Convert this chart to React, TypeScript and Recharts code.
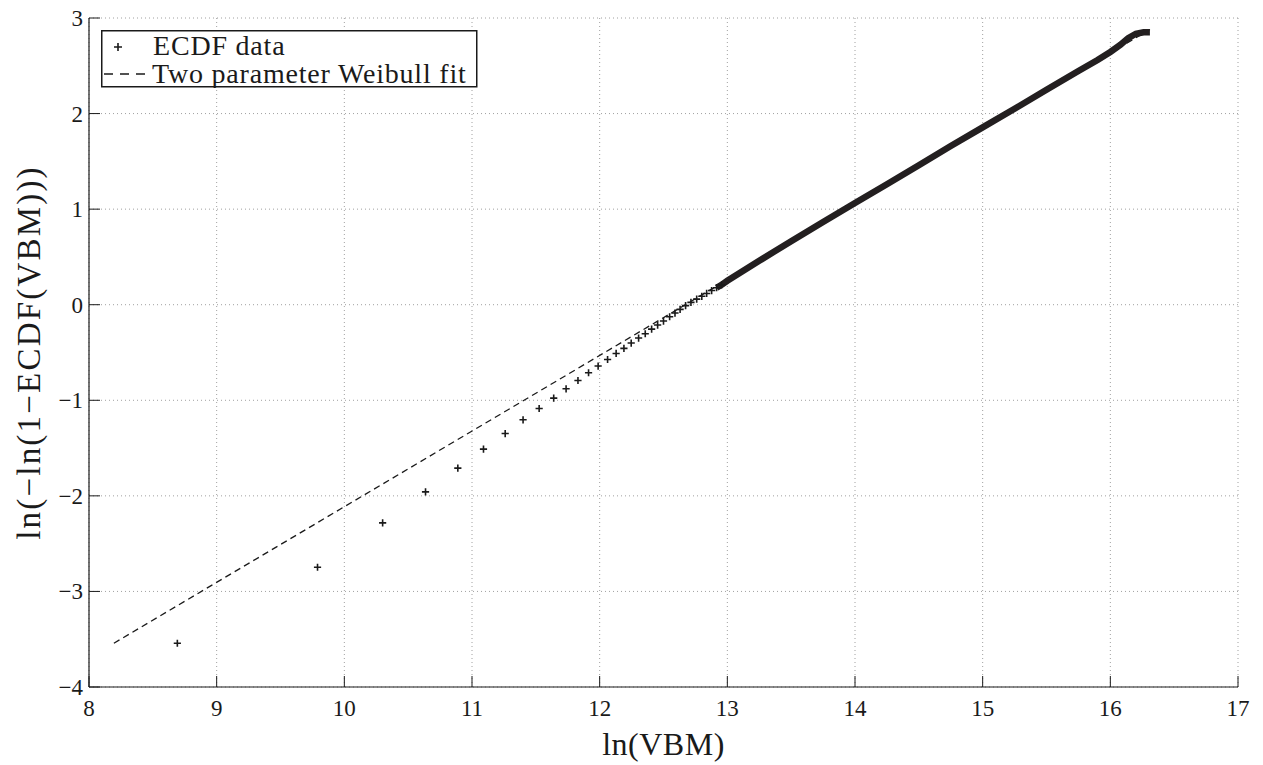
import React from 'react';
import { ComposedChart, Scatter, Line, XAxis, YAxis, CartesianGrid, Legend } from 'recharts';

// Tick values
const xTicks = [8, 9, 10, 11, 12, 13, 14, 15, 16, 17];
const yTicks = [-4, -3, -2, -1, 0, 1, 2, 3];

// ECDF data: individually visible crosses
const ecdfSparseX = [8.692, 9.79, 10.30, 10.636, 10.889, 11.09, 11.26, 11.40, 11.526, 11.64, 11.737, 11.83, 11.913, 11.988, 12.062, 12.129, 12.19, 12.247, 12.305, 12.357, 12.407, 12.454, 12.50, 12.548, 12.59, 12.63, 12.673, 12.715, 12.76, 12.80, 12.838, 12.877, 12.916, 12.955];
const ecdfSparseY = [-3.542, -2.747, -2.283, -1.958, -1.710, -1.511, -1.348, -1.204, -1.086, -0.977, -0.880, -0.793, -0.712, -0.642, -0.573, -0.510, -0.457, -0.401, -0.349, -0.304, -0.255, -0.213, -0.171, -0.126, -0.087, -0.049, -0.010, 0.025, 0.058, 0.088, 0.118, 0.148, 0.178, 0.208];

// ECDF data: dense run of crosses forming a solid band
const ecdfBandX = [12.916, 12.955, 13.0, 13.25, 13.5, 13.75, 14.0, 14.25, 14.5, 14.75, 15.0, 15.25, 15.5, 15.75, 15.9, 16.0, 16.08, 16.14, 16.2, 16.26, 16.31];
const ecdfBandY = [0.178, 0.208, 0.25, 0.46, 0.665, 0.865, 1.065, 1.26, 1.46, 1.66, 1.855, 2.05, 2.25, 2.445, 2.56, 2.645, 2.72, 2.79, 2.835, 2.85, 2.85];

// Two parameter Weibull fit (end points)
const fitX = [8.195, 16.31];
const fitY = [-3.542, 2.88];

const sparseData = ecdfSparseX.map((x, i) => ({ x, y: ecdfSparseY[i] }));
const bandData = ecdfBandX.map((x, i) => ({ x, y: ecdfBandY[i] }));
const fitData = fitX.map((x, i) => ({ x, y: fitY[i] }));

const FONT = '"Liberation Serif", "Times New Roman", serif';
const TICK = 11;
const INK = '#1a1a1a';

// layout constants
const W = 1263;
const H = 765;
const M_TOP = 18;
const M_RIGHT = 25;
const Y_AXIS_W = 89;
const X_AXIS_H = 78;
const PLOT_TOP = M_TOP;
const PLOT_BOTTOM = H - X_AXIS_H;
const PLOT_LEFT = Y_AXIS_W;
const PLOT_RIGHT = W - M_RIGHT;

const fmt = (v: number) => (v < 0 ? '\u2212' + Math.abs(v) : String(v));

const BottomTick = (props: any) => {
  const { x, payload } = props;
  return (
    <g>
      <line x1={x} x2={x} y1={PLOT_BOTTOM} y2={PLOT_BOTTOM - TICK} stroke={INK} strokeWidth={1} />
      <text x={x} y={PLOT_BOTTOM + 29} textAnchor="middle" fontFamily={FONT} fontSize={23} fill={INK}>
        {fmt(payload.value)}
      </text>
    </g>
  );
};

const TopTick = (props: any) => {
  const { x } = props;
  return <line x1={x} x2={x} y1={PLOT_TOP} y2={PLOT_TOP + TICK} stroke={INK} strokeWidth={1} />;
};

const LeftTick = (props: any) => {
  const { y, payload } = props;
  return (
    <g>
      <line x1={PLOT_LEFT} x2={PLOT_LEFT + TICK} y1={y} y2={y} stroke={INK} strokeWidth={1} />
      <text x={PLOT_LEFT - 6} y={y + 8} textAnchor="end" fontFamily={FONT} fontSize={23} fill={INK}>
        {fmt(payload.value)}
      </text>
    </g>
  );
};

const RightTick = (props: any) => {
  const { y } = props;
  return <line x1={PLOT_RIGHT} x2={PLOT_RIGHT - TICK} y1={y} y2={y} stroke={INK} strokeWidth={1} />;
};

const Cross = (props: any) => {
  const { cx, cy } = props;
  const s = 3.6;
  return (
    <path
      d={`M${cx - s},${cy}H${cx + s}M${cx},${cy - s}V${cy + s}`}
      stroke={INK}
      strokeWidth={1.6}
      fill="none"
    />
  );
};

const renderLegend = () => (
  <svg width={377} height={58} style={{ display: 'block' }}>
    <rect x={0.75} y={0.75} width={375} height={56} fill="#fff" stroke={INK} strokeWidth={1.5} />
    <path d="M13,17H21M17,13V21" stroke={INK} strokeWidth={1.6} />
    <text x={52} y={25} fontFamily={FONT} fontSize={28} letterSpacing={0.8} fill={INK}>
      ECDF data
    </text>
    <line x1={3} x2={48} y1={44} y2={44} stroke={INK} strokeWidth={1.3} strokeDasharray="9 7" />
    <text x={51} y={53} fontFamily={FONT} fontSize={28} letterSpacing={0.8} fill={INK}>
      Two parameter Weibull fit
    </text>
  </svg>
);

const YLabel = () => {
  const cx = 40;
  const cy = (PLOT_TOP + PLOT_BOTTOM) / 2;
  return (
    <text
      x={cx}
      y={cy}
      transform={`rotate(-90, ${cx}, ${cy})`}
      textAnchor="middle"
      fontFamily={FONT}
      fontSize={33}
      letterSpacing={2.2}
      fill={INK}
    >
      {'ln(\u2212ln(1\u2212ECDF(VBM)))'}
    </text>
  );
};

const XLabel = () => {
  const cx = (PLOT_LEFT + PLOT_RIGHT) / 2;
  return (
    <text x={cx} y={PLOT_BOTTOM + 68} textAnchor="middle" fontFamily={FONT} fontSize={32} letterSpacing={0.5} fill={INK}>
      ln(VBM)
    </text>
  );
};

export default function App() {
  return (
    <div style={{ position: 'absolute', left: 0, top: 0, width: W, height: H, background: '#fff' }}>
      <ComposedChart width={W} height={H} margin={{ top: M_TOP, right: M_RIGHT, bottom: 0, left: 0 }}>
        <CartesianGrid stroke="#a0a0a0" strokeDasharray="1 3" strokeWidth={1} />
        <XAxis
          dataKey="x"
          type="number"
          domain={[8, 17]}
          ticks={xTicks}
          interval={0}
          allowDataOverflow
          height={X_AXIS_H}
          tickLine={false}
          tick={<BottomTick />}
          axisLine={{ stroke: INK, strokeWidth: 1.2 }}
          label={<XLabel />}
        />
        <XAxis
          xAxisId="top"
          orientation="top"
          dataKey="x"
          type="number"
          domain={[8, 17]}
          ticks={xTicks}
          interval={0}
          allowDataOverflow
          height={0}
          tickLine={false}
          tick={<TopTick />}
          axisLine={{ stroke: INK, strokeWidth: 1.2 }}
        />
        <YAxis
          dataKey="y"
          type="number"
          domain={[-4, 3]}
          ticks={yTicks}
          interval={0}
          allowDataOverflow
          width={Y_AXIS_W}
          tickLine={false}
          tick={<LeftTick />}
          axisLine={{ stroke: INK, strokeWidth: 1.2 }}
          label={<YLabel />}
        />
        <YAxis
          yAxisId="right"
          orientation="right"
          dataKey="y"
          type="number"
          domain={[-4, 3]}
          ticks={yTicks}
          interval={0}
          allowDataOverflow
          width={0}
          tickLine={false}
          tick={<RightTick />}
          axisLine={{ stroke: INK, strokeWidth: 1.2 }}
        />
        <Legend
          layout="horizontal"
          verticalAlign="middle"
          align="center"
          content={renderLegend}
          wrapperStyle={{ position: 'absolute', left: 101, top: 30, width: 377, height: 58, bottom: 'auto', right: 'auto' }}
        />
        <Line
          data={fitData}
          dataKey="y"
          stroke={INK}
          strokeWidth={1.3}
          strokeDasharray="6.5 4.3"
          dot={false}
          activeDot={false}
          isAnimationActive={false}
          legendType="none"
        />
        <Scatter
          data={sparseData}
          dataKey="y"
          shape={(p: any) => <Cross {...p} />}
          isAnimationActive={false}
          legendType="none"
        />
        <Line
          data={bandData}
          dataKey="y"
          stroke="#231f20"
          strokeWidth={6.5}
          dot={false}
          activeDot={false}
          isAnimationActive={false}
          legendType="none"
        />
      </ComposedChart>
    </div>
  );
}
